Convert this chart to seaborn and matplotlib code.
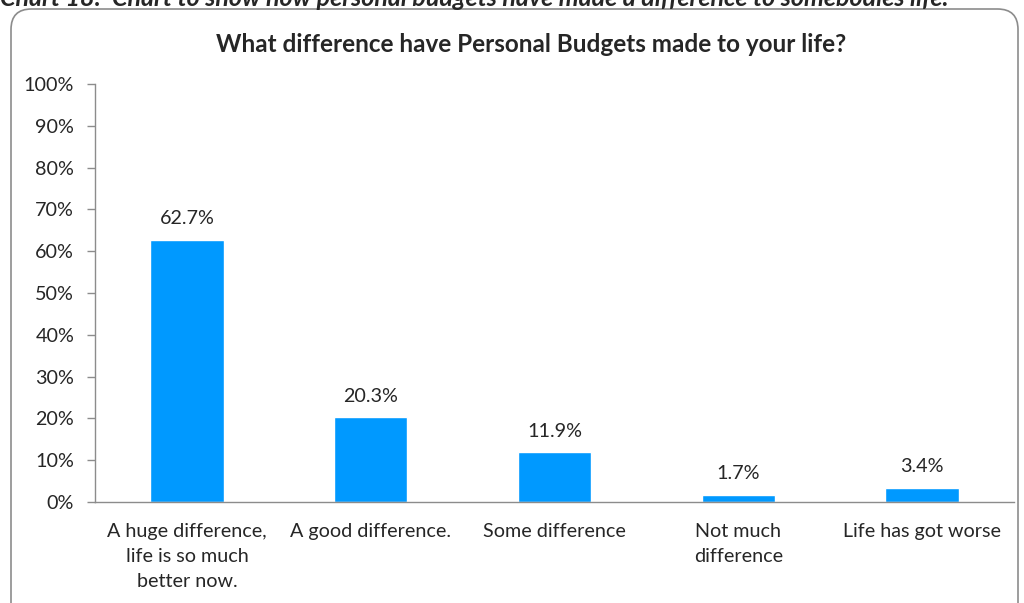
import matplotlib
matplotlib.use("Agg")
import matplotlib.pyplot as plt
from matplotlib.patches import FancyBboxPatch
from matplotlib.ticker import FixedLocator, PercentFormatter
import seaborn as sns
import pandas as pd

categories = [
    "A huge difference,\nlife is so much\nbetter now.",
    "A good difference.",
    "Some difference",
    "Not much\ndifference",
    "Life has got worse",
]
values = [62.7, 20.3, 11.9, 1.7, 3.4]
y_ticks = [0, 10, 20, 30, 40, 50, 60, 70, 80, 90, 100]

title = "What difference have Personal Budgets made to your life?"
caption = "Chart 18:  Chart to show how personal budgets have made a difference to somebodies life."

sns.set_style("white")
plt.rcParams["font.family"] = ["Lato", "DejaVu Sans"]

W, H = 1024, 603
fig = plt.figure(figsize=(W / 100, H / 100), dpi=100)

# rounded chart frame running off the bottom edge
frame = FancyBboxPatch((11 / W, -40 / H), (1018 - 11) / W, (H - 9 + 40) / H,
                       boxstyle="round,pad=0,rounding_size=0.02",
                       transform=fig.transFigure, fill=False,
                       edgecolor="#8c8c8c", linewidth=1.2, mutation_aspect=W / H)
fig.patches.append(frame)

fig.text(0 / W, 1 - 6 / H, caption, fontsize=18, fontweight="bold",
         fontstyle="italic", ha="left", va="baseline")

ax_left, ax_right, ax_top, ax_bottom = 95, 1014, 84, 502
ax = fig.add_axes([ax_left / W, 1 - ax_bottom / H,
                   (ax_right - ax_left) / W, (ax_bottom - ax_top) / H])

df = pd.DataFrame({"category": categories, "value": values})
sns.barplot(data=df, x="category", y="value", order=categories,
            color="#0099FF", saturation=1, width=0.40, ax=ax)

FS = 14.2
for i, v in enumerate(values):
    ax.annotate(f"{v:.1f}%", (i, v), xytext=(0, 9), textcoords="offset points",
                ha="center", va="bottom", fontsize=FS)

ax.set_xlim(-0.5, len(categories) - 0.5)
ax.set_ylim(0, 100)
ax.yaxis.set_major_locator(FixedLocator(y_ticks))
ax.yaxis.set_major_formatter(PercentFormatter(decimals=0))
ax.xaxis.set_minor_locator(FixedLocator([i - 0.5 for i in range(len(categories) + 1)]))

ax.set_xlabel("")
ax.set_ylabel("")
ax.tick_params(axis="x", which="major", length=0, pad=15, labelsize=FS)
ax.tick_params(axis="x", which="minor", length=6, width=1, color="#8c8c8c", direction="out")
ax.tick_params(axis="y", length=6, width=1, color="#8c8c8c", direction="out",
               left=True, pad=9, labelsize=FS)
for lbl in ax.get_xticklabels():
    lbl.set_linespacing(1.57)

for s in ["top", "right"]:
    ax.spines[s].set_visible(False)
for s in ["left", "bottom"]:
    ax.spines[s].set_color("#8c8c8c")
    ax.spines[s].set_linewidth(1)

fig.text(531 / W, 1 - 45 / H, title, fontsize=17.5,
         fontweight="bold", ha="center", va="center")

fig.savefig("out.png", dpi=100)
